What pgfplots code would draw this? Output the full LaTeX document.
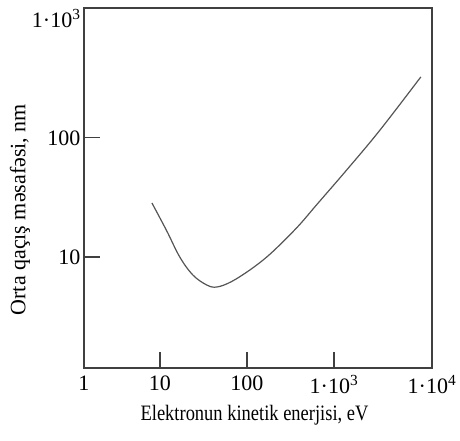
\documentclass[border=0pt]{standalone}
\usepackage{pgfplots}
\pgfplotsset{compat=1.18}
\usepackage{fontspec}
\setmainfont{Liberation Serif}
\definecolor{axgray}{HTML}{404040}
\definecolor{curvegray}{HTML}{555555}
\begin{document}
\begin{tikzpicture}
\begin{axis}[
  xmode=log, ymode=log,
  width=348pt, height=360pt, scale only axis,
  xmin=1.34, xmax=13400,
  ymin=1.17, ymax=1230,
  axis line style={axgray, line width=1.2pt},
  xtick={1.34,10,100,1000,13400},
  xticklabels={1,10,100,1·10\textsuperscript{3},1·10\textsuperscript{4}},
  ytick={10,100},
  yticklabels={10,100},
  extra y ticks={1000},
  extra y tick labels={1·10\textsuperscript{3}},
  extra y tick style={major tick length=0pt},
  xminorticks=false, yminorticks=false,
  tick align=inside, major tick length=16pt,
  tick style={axgray, line width=1.2pt},
  xtick pos=bottom, ytick pos=left,
  ticklabel style={font=\fontsize{22}{24}\selectfont, text=black},
  xticklabel style={yshift=-4pt},
  xlabel={\scalebox{0.84}[1]{Elektronun kinetik enerjisi, eV}},
  ylabel={Orta qaçış məsafəsi, nm},
  label style={font=\fontsize{22}{24}\selectfont},
  xlabel style={at={(axis description cs:0.49,-0.13)}, anchor=center},
  ylabel style={at={(axis description cs:-0.184,0.44)}, anchor=center},
]
\addplot[curvegray, line width=1.2pt, smooth, tension=0.6] coordinates {
  (8.09,28.4) (12.0,16.5) (16.9,10.0) (23.9,7.06) (34.7,5.81) (45.2,5.60)
  (66,6.2) (108,7.78) (169,10.0) (259,13.4) (406,18.8) (637,27.6)
  (1409,54) (3375,116) (9980,325)
};
\end{axis}
\path (current axis.south west) ++(-84pt,-72pt) rectangle ([shift={(28pt,8pt)}]current axis.north east);
\end{tikzpicture}
\end{document}
